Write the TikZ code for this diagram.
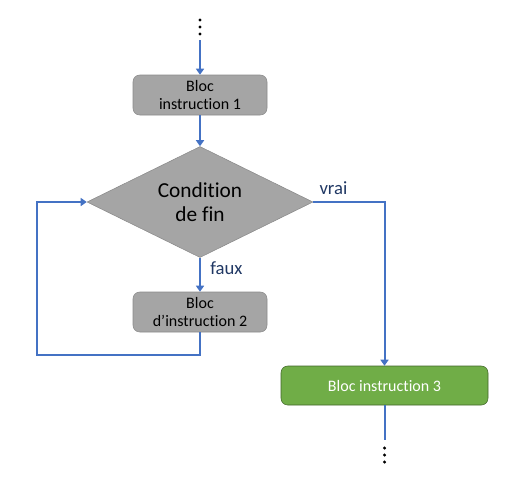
\documentclass[tikz,border=0pt]{standalone}
\usepackage{fontspec}
\setmainfont{Carlito}[Ligatures=NoCommon]
\usepackage{tikz}
\usetikzlibrary{arrows.meta,shapes.geometric,calc}
\definecolor{flB}{HTML}{4472C4}
\definecolor{boxG}{HTML}{A5A5A5}
\definecolor{boxGd}{HTML}{8A8A8A}
\definecolor{boxV}{HTML}{70AD47}
\definecolor{boxVd}{HTML}{41662A}
\definecolor{lblN}{HTML}{203864}

\begin{document}
\begin{tikzpicture}[x=0.75pt,y=-0.75pt,
  bloc/.style={draw=boxGd,fill=boxG,rounded corners=5pt,minimum width=100.5pt,
    minimum height=30pt,inner sep=0pt,align=center,font=\fontsize{12}{13.5}\selectfont},
  cond/.style={diamond,draw=boxGd,fill=boxG,aspect=2,minimum width=169.5pt,
    minimum height=83.25pt,inner sep=0pt,align=center,font=\fontsize{16}{18.5}\selectfont},
  fin/.style={draw=boxVd,fill=boxV,text=white,rounded corners=5pt,minimum width=155.25pt,
    minimum height=29.25pt,inner sep=0pt,font=\fontsize{12}{13.5}\selectfont},
  lbl/.style={text=lblN,font=\fontsize{14}{16}\selectfont,inner sep=0pt},
  flow/.style={flB,line width=1.5pt},
  fl/.style={flow,-{Triangle[length=4.5pt,width=6pt]}}]
  \useasboundingbox (0,0) rectangle (510,480);
  \node[bloc] (b1) at (200,95) {Bloc\\instruction 1};
  \node[cond] (c) at (200,202) {Condition\\de fin};
  \node[bloc] (b2) at (200,312) {Bloc\\d’instruction 2};
  \node[fin] (b3) at (384.5,385.5) {Bloc instruction 3};
  \coordinate (in) at (200,40);
  \coordinate (out) at (384.5,440);
  \coordinate (loop) at (37,355);
  \foreach \y in {20,27,34}{
    \fill (200,\y) circle (1.3pt);
    \fill (384.5,\y+428) circle (1.3pt);}
  \draw[fl] (in) -- (b1);
  \draw[fl] (b1) -- (c);
  \draw[fl] (c.east) -| (b3.north);
  \node[lbl,anchor=south west] (v) at ($(c.east)+(6,-7)$) {vrai};
  \draw[fl] (c.south) -- (b2.north);
  \node[lbl,anchor=west] (f) at ($(c.south)+(10,10)$) {faux};
  \draw[fl] (b2.south) |- (loop) |- (c.west);
  \draw[flow] (b3.south) -- (out);
\end{tikzpicture}
\end{document}
